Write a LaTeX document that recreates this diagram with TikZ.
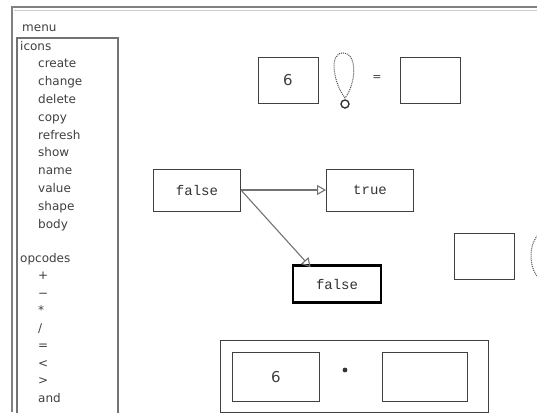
\documentclass[tikz,border=0pt]{standalone}
\usepackage{fontspec}
\setmainfont{DejaVu Sans}
\newfontfamily\valfont{Liberation Mono}
\usetikzlibrary{arrows.meta}
\tikzset{
  frameline/.style={draw=black!50, line width=1.6pt},
  menuitem/.style={anchor=base west, inner sep=0pt, font=\fontsize{12}{12}\selectfont, text=black!75},
  slot/.style={draw=black!75, line width=0.9pt, minimum width=60pt, minimum height=46pt, inner sep=0pt},
  valbox/.style={draw=black!75, line width=0.9pt, minimum width=87pt, minimum height=42pt, inner sep=0pt, font=\valfont\fontsize{14}{14}\selectfont, text=black!80},
  link/.style={draw=black!55, line width=1.1pt, -{Triangle[open, length=9pt, width=10pt]}},
  numtext/.style={font=\fontsize{15}{15}\selectfont, text=black!75},
  loopline/.style={draw=black!70, densely dotted, line width=1pt}
}
\begin{document}
\begin{tikzpicture}[x=1pt, y=-1pt]
  \useasboundingbox (0,0) rectangle (537,412);
  \clip (0,0) rectangle (537,412);
  \fill[white] (0,0) rectangle (537,412);

  % window frame
  \draw[frameline] (12,412) -- (12,7) -- (540,7);
  \draw[black!20, line width=0.6pt] (14,10) -- (540,10);

  % menu panel
  \node[menuitem] (menutitle) at (22,31) {menu};
  \draw[draw=black!55, line width=1.2pt] (17,420) -- (17,38) -- (118,38) -- (118,420);
  \node[menuitem] (icons) at (20,50) {icons};
  \foreach \lab [count=\i from 1] in {create, change, delete, copy, refresh, show, name, value, shape, body}
    \node[menuitem] (icon-\i) at (38,50+17.8*\i) {\lab};
  \node[menuitem] (opcodes) at (20,262) {opcodes};
  \foreach \lab [count=\i from 1] in {+, −, *, {/}, =, <, >, and}
    \node[menuitem] (op-\i) at (38,262+17.5*\i) {\lab};

  % top expression: 6 <loop> = [ ]
  \node[slot, numtext] (six1) at (288,80) {6};
  \draw[loopline]
    (345,98) .. controls (334,84) and (328,53) .. (343,53)
             .. controls (358,53) and (356,84) .. (345,98);
  \draw[black!80, line width=1.4pt] (345,104) circle (4pt);
  \node[numtext, font=\fontsize{11}{11}\selectfont] (eq1) at (377,78) {=};
  \node[slot] (res1) at (430,80) {};

  % boolean nodes and links
  \node[valbox] (f1) at (197,190) {false};
  \node[valbox] (t1) at (370,190) {true};
  \node[valbox, line width=2.6pt, draw=black, minimum width=88pt, minimum height=37pt] (f2) at (337,284) {false};
  \draw[link] (f1.east) -- (t1.west);
  \draw[link] (f1.east) -- ([xshift=19pt, yshift=-3pt]f2.north west);

  % right slot and partially visible loop
  \node[slot] (res2) at (484,256) {};
  \draw[loopline] (546,256) ellipse (15pt and 25pt);

  % bottom expression group
  \node[draw=black!75, line width=1pt, minimum width=268pt, minimum height=72pt, inner sep=0pt] (grp) at (354,376) {};
  \node[slot, numtext, minimum width=87pt, minimum height=49pt] (six2) at (276,377) {6};
  \fill[black!80] (345,370) circle (2.4pt);
  \node[slot, minimum width=85pt, minimum height=49pt] (res3) at (425,377) {};
\end{tikzpicture}
\end{document}
